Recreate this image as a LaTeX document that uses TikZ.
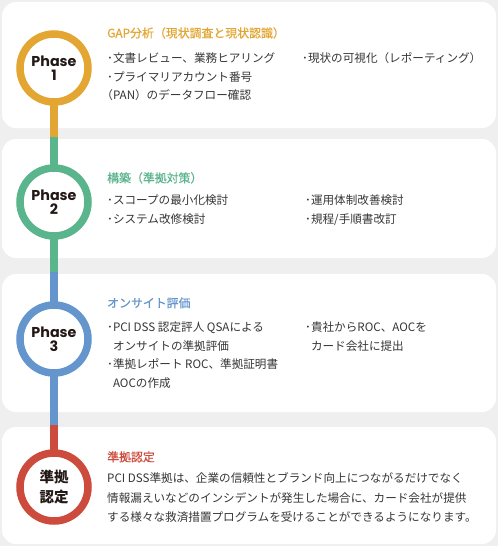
\documentclass[tikz,border=0pt]{standalone}
\usepackage{fontspec}
\newfontfamily\cjk{Noto Sans CJK JP}
\newfontfamily\cjktitle{Noto Sans CJK JP}[FakeBold=0.45]
\newfontfamily\phasefont{Poppins}
\definecolor{bg}{HTML}{EFEFEF}
\definecolor{pone}{RGB}{227,166,50}
\definecolor{ptwo}{RGB}{90,180,140}
\definecolor{pthree}{RGB}{100,150,205}
\definecolor{pfour}{RGB}{205,75,60}
\definecolor{bodytxt}{HTML}{363636}
\definecolor{phasetxt}{HTML}{231815}
\begin{document}
\begin{tikzpicture}[x=1pt,y=-1pt,
  card/.style={fill=white, rounded corners=14pt},
  ring/.style={circle, draw=#1, fill=white, line width=7.5pt, minimum size=68pt,
    inner sep=0pt, outer sep=0pt, align=center, text=phasetxt},
  phaselabel/.style={font=\phasefont\bfseries\fontsize{14.3}{14.5}\selectfont},
  kanjilabel/.style={font=\cjk\bfseries\fontsize{14.5}{20}\selectfont},
  seg/.style={line width=7.5pt, draw=#1},
  titletext/.style={anchor=base west, inner sep=0pt, font=\cjktitle\fontsize{11.9}{14}\selectfont, text=#1},
  bodytext/.style={anchor=base west, inner sep=0pt, font=\cjk\fontsize{11.6}{14}\selectfont, text=bodytxt},
]
\fill[bg] (0,0) rectangle (498,546);
\useasboundingbox (0,0) rectangle (498,546);
% cards
\fill[card] (2,2) rectangle (496,128);
\fill[card] (2,139) rectangle (496,258);
\fill[card] (2,274) rectangle (496,412);
\fill[card] (2,427) rectangle (496,544);
% phase circles
\node[ring=pone, phaselabel] (p1) at (54,68) {Phase\\1};
\node[ring=ptwo, phaselabel] (p2) at (54,202) {Phase\\2};
\node[ring=pthree, phaselabel] (p3) at (54,339) {Phase\\3};
\node[ring=pfour, kanjilabel] (p4) at (54,487) {準拠\\認定};
% connector joints
\coordinate (j1) at (54,137);
\coordinate (j2) at (54,272);
\coordinate (j3) at (54,425);
\draw[seg=pone] (p1.south) -- (j1);
\draw[seg=ptwo] (j1) -- (p2.north);
\draw[seg=ptwo] (p2.south) -- (j2);
\draw[seg=pthree] (j2) -- (p3.north);
\draw[seg=pthree] (p3.south) -- (j3);
\draw[seg=pfour] (j3) -- (p4.north);
% card 1
\node[titletext=pone] (t1) at (107,37.5) {GAP分析（現状調査と現状認識）};
\node[bodytext] (a1) at (107,62.4) {･文書レビュー、業務ヒアリング};
\node[bodytext] (a2) at (107,81) {･プライマリアカウント番号};
\node[bodytext] (a3) at (101.2,99.4) {（PAN）のデータフロー確認};
\node[bodytext] (a4) at (302,62.4) {･現状の可視化（レポーティング）};
% card 2
\node[titletext=ptwo] (t2) at (107,182.4) {構築（準拠対策）};
\node[bodytext] (b1) at (107,204.4) {･スコープの最小化検討};
\node[bodytext] (b2) at (107,223.4) {･システム改修検討};
\node[bodytext] (b3) at (305,204.4) {･運用体制改善検討};
\node[bodytext] (b4) at (305,223.4) {･規程/手順書改訂};
% card 3
\node[titletext=pthree] (t3) at (107,307.4) {オンサイト評価};
\node[bodytext] (c1) at (107,331.4) {･PCI DSS 認定評人 QSAによる};
\node[bodytext] (c2) at (112.8,350) {オンサイトの準拠評価};
\node[bodytext] (c3) at (107,368.4) {･準拠レポート ROC、準拠証明書};
\node[bodytext] (c4) at (112.8,387) {AOCの作成};
\node[bodytext] (c5) at (305,331.4) {･貴社からROC、AOCを};
\node[bodytext] (c6) at (310.8,350) {カード会社に提出};
% card 4
\node[titletext=pfour] (t4) at (107,461.4) {準拠認定};
\node[bodytext] (d1) at (107,482.4) {PCI DSS準拠は、企業の信頼性とブランド向上につながるだけでなく};
\node[bodytext] (d2) at (107,502) {情報漏えいなどのインシデントが発生した場合に、カード会社が提供};
\node[bodytext] (d3) at (107,521.4) {する様々な救済措置プログラムを受けることができるようになります。};
\end{tikzpicture}
\end{document}
